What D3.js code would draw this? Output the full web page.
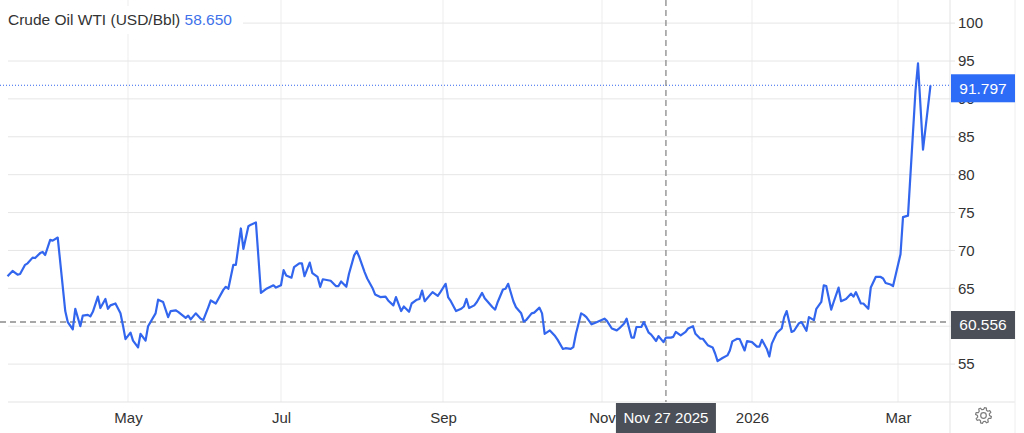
<!DOCTYPE html>
<html>
<head>
<meta charset="utf-8">
<script src="https://cdn.jsdelivr.net/npm/d3@7"></script>
<style>
  body { margin: 0; background: #fff; }
  svg { display: block; font-family: "Liberation Sans", Arial, Helvetica, sans-serif; }
</style>
</head>
<body>
<svg id="chart" width="1024" height="433"></svg>
<script>
// daily WTI closes
const dates = [
  "2025-03-14","2025-03-16","2025-03-18","2025-03-19","2025-03-21","2025-03-22","2025-03-24","2025-03-25","2025-03-27","2025-03-28","2025-03-29","2025-03-31",
  "2025-04-01","2025-04-03","2025-04-06","2025-04-07","2025-04-09","2025-04-10","2025-04-12","2025-04-13","2025-04-15","2025-04-16","2025-04-17","2025-04-19","2025-04-20","2025-04-22","2025-04-23","2025-04-24","2025-04-26","2025-04-28","2025-04-29","2025-04-30",
  "2025-05-02","2025-05-03","2025-05-05","2025-05-06","2025-05-08","2025-05-09","2025-05-12","2025-05-13","2025-05-15","2025-05-17","2025-05-18","2025-05-20","2025-05-21","2025-05-24","2025-05-25","2025-05-26","2025-05-28","2025-05-30","2025-05-31",
  "2025-06-02","2025-06-03","2025-06-05","2025-06-06","2025-06-08","2025-06-09","2025-06-10","2025-06-12","2025-06-13","2025-06-15","2025-06-16","2025-06-18","2025-06-19","2025-06-21","2025-06-22","2025-06-23","2025-06-25","2025-06-28","2025-06-29",
  "2025-07-01","2025-07-02","2025-07-03","2025-07-05","2025-07-06","2025-07-08","2025-07-09","2025-07-10","2025-07-12","2025-07-13","2025-07-15","2025-07-16","2025-07-17","2025-07-20","2025-07-22","2025-07-23","2025-07-24","2025-07-26","2025-07-27","2025-07-29","2025-07-30","2025-07-31",
  "2025-08-02","2025-08-03","2025-08-05","2025-08-06","2025-08-08","2025-08-10","2025-08-11","2025-08-13","2025-08-14","2025-08-16","2025-08-17","2025-08-19","2025-08-20","2025-08-22","2025-08-23","2025-08-24","2025-08-25","2025-08-27","2025-08-28","2025-08-30","2025-08-31",
  "2025-09-02","2025-09-03","2025-09-04","2025-09-06","2025-09-08","2025-09-09","2025-09-10","2025-09-11","2025-09-13","2025-09-14","2025-09-16","2025-09-17","2025-09-18","2025-09-20","2025-09-21","2025-09-22","2025-09-24","2025-09-25","2025-09-26","2025-09-28","2025-09-29",
  "2025-10-01","2025-10-02","2025-10-03","2025-10-05","2025-10-06","2025-10-08","2025-10-09","2025-10-10","2025-10-12","2025-10-14","2025-10-15","2025-10-17","2025-10-18","2025-10-20","2025-10-21","2025-10-22","2025-10-24","2025-10-25","2025-10-26","2025-10-28","2025-10-29","2025-10-31",
  "2025-11-02","2025-11-03","2025-11-05","2025-11-07","2025-11-08","2025-11-10","2025-11-11","2025-11-13","2025-11-14","2025-11-15","2025-11-17","2025-11-18","2025-11-20","2025-11-21","2025-11-23","2025-11-24","2025-11-26","2025-11-27","2025-11-29","2025-11-30",
  "2025-12-01","2025-12-03","2025-12-05","2025-12-06","2025-12-08","2025-12-09","2025-12-11","2025-12-12","2025-12-14","2025-12-16","2025-12-17","2025-12-18","2025-12-20","2025-12-22","2025-12-23","2025-12-24","2025-12-26","2025-12-27","2025-12-29","2025-12-30",
  "2026-01-01","2026-01-03","2026-01-04","2026-01-05","2026-01-07","2026-01-08","2026-01-09","2026-01-11","2026-01-13","2026-01-14","2026-01-15","2026-01-17","2026-01-18","2026-01-20","2026-01-21","2026-01-23","2026-01-24","2026-01-26","2026-01-27","2026-01-29","2026-01-30","2026-01-31",
  "2026-02-02","2026-02-03","2026-02-05","2026-02-06","2026-02-08","2026-02-10","2026-02-11","2026-02-12","2026-02-14","2026-02-15","2026-02-17","2026-02-18","2026-02-20","2026-02-22","2026-02-23","2026-02-24","2026-02-26","2026-02-27","2026-02-28",
  "2026-03-02","2026-03-03","2026-03-05","2026-03-08","2026-03-09","2026-03-11","2026-03-14"
];
const prices = [
  66.6,67.3,66.8,66.9,68.1,68.3,69.05,69.0,69.65,69.8,69.4,71.4,
  71.3,71.7,62.0,60.55,59.6,62.3,60.0,61.4,61.5,61.3,61.9,63.9,62.4,63.6,62.3,62.75,63.0,61.7,60.1,58.3,
  59.15,58.1,57.2,59.0,58.1,60.0,61.7,63.5,63.2,61.2,62.0,62.1,61.9,61.1,61.4,60.9,61.7,61.0,60.8,
  62.5,63.4,63.0,63.6,64.8,65.2,64.95,68.1,68.1,72.9,70.2,73.2,73.4,73.7,69.1,64.4,64.9,65.4,65.1,
  65.4,67.4,66.7,66.4,67.8,68.3,68.3,66.6,68.4,67.0,66.5,65.2,66.2,66.0,65.3,65.3,65.9,65.2,66.9,69.35,69.9,69.1,
  67.15,66.3,65.05,64.2,63.85,63.9,63.4,62.75,63.85,62.0,62.6,61.9,63.0,63.5,63.6,64.7,63.3,64.1,64.5,64.0,64.5,
  65.6,63.8,63.3,62.0,62.3,62.6,63.6,62.4,62.75,63.2,64.4,63.7,63.3,62.5,62.2,63.2,64.85,64.95,65.6,63.3,62.5,
  61.7,60.6,60.85,61.7,61.8,62.45,61.7,59.0,59.45,58.7,58.2,57.0,57.1,57.0,57.25,59.0,61.7,61.5,61.2,60.25,60.4,60.7,
  61.0,60.7,59.7,59.45,59.7,60.35,61.0,58.5,58.5,59.9,59.9,60.55,59.15,58.9,58.05,58.7,57.9,58.5,58.5,58.6,
  59.25,58.8,59.25,59.7,60.0,59.0,58.35,58.35,57.5,57.2,56.4,55.4,55.8,56.15,56.8,58.0,58.35,58.3,56.8,58.05,
  57.9,57.3,57.3,58.2,57.0,56.0,57.7,59.1,59.7,61.2,62.0,59.25,59.4,60.4,60.55,59.4,61.2,60.8,62.3,63.2,65.4,65.3,
  62.2,63.2,65.1,63.3,63.6,64.3,63.9,64.5,63.0,63.0,62.3,65.1,66.5,66.5,66.3,65.7,65.5,65.3,66.7,
  69.5,74.4,74.6,91.1,94.7,83.3,91.797
];

const yTicks = [55, 60, 65, 70, 75, 80, 85, 90, 95, 100];
const monthTicks = ["2025-05-01", "2025-07-01", "2025-09-01", "2025-11-01", "2026-01-01", "2026-03-01"];
const monthLabels = ["May", "Jul", "Sep", "Nov", "2026", "Mar"];

const seriesName = "Crude Oil WTI (USD/Bbl)";
const headline = "58.650";
const lastPrice = 91.797;
const cursorDate = "2025-11-27";
const cursorLabel = "Nov 27 2025";
const cursorPrice = 60.556;

const W = 1024, H = 433;
const plotRight = 950, plotBottom = 402;
const blue = "#3366ee";
const dark = "#4b4f57";

const parse = d3.timeParse("%Y-%m-%d");
const data = dates.map((d, i) => ({ date: parse(d), value: prices[i] }));
const tickDates = monthTicks.map(parse);

const svg = d3.select("#chart");

// the time axis skips weekends, so months are not equally wide:
// a piecewise scale keeps the month marks where the source put them
const x = d3.scaleTime()
    .domain([parse("2025-03-11")].concat(tickDates, [parse("2026-03-21")]))
    .range([0, 128, 281, 443, 602, 752, 898, 948]);

const y = d3.scaleLinear()
    .domain([50, 103.05])
    .range([plotBottom, 0]);

// grid
svg.append("g")
    .selectAll("line")
    .data(tickDates)
    .join("line")
    .attr("x1", d => x(d)).attr("x2", d => x(d))
    .attr("y1", 0).attr("y2", plotBottom)
    .attr("stroke", "#ededed");

svg.append("g")
    .selectAll("line")
    .data(yTicks)
    .join("line")
    .attr("x1", 8).attr("x2", plotRight + 5)
    .attr("y1", d => y(d)).attr("y2", d => y(d))
    .attr("stroke", "#e6e6e6");

// frame
svg.append("line")
    .attr("x1", 8).attr("x2", 1015)
    .attr("y1", plotBottom).attr("y2", plotBottom)
    .attr("stroke", "#e3e3e3");
svg.append("line")
    .attr("x1", plotRight).attr("x2", plotRight)
    .attr("y1", 0).attr("y2", H)
    .attr("stroke", "#e3e3e3");
svg.append("line")
    .attr("x1", 1015).attr("x2", 1015)
    .attr("y1", 0).attr("y2", H)
    .attr("stroke", "#eeeeee");

// axes; the label sitting fully under the crosshair tag is not shown
const yAxis = svg.append("g")
    .attr("transform", `translate(${plotRight},0)`)
    .call(d3.axisRight(y).tickValues(yTicks).tickSize(0).tickPadding(8));
yAxis.select(".domain").remove();
yAxis.selectAll("text")
    .attr("font-size", 15)
    .attr("fill", "#333")
    .attr("font-family", "Liberation Sans, Arial, sans-serif");
yAxis.selectAll(".tick")
    .filter(d => Math.abs(y(d) - y(cursorPrice)) < 10)
    .remove();

const xAxis = svg.append("g")
    .attr("transform", `translate(0,${plotBottom})`)
    .call(d3.axisBottom(x).tickValues(tickDates).tickFormat((d, i) => monthLabels[i]).tickSize(0).tickPadding(10));
xAxis.select(".domain").remove();
xAxis.selectAll("text")
    .attr("font-size", 15)
    .attr("fill", "#333")
    .attr("font-family", "Liberation Sans, Arial, sans-serif");

// last price guide
svg.append("line")
    .attr("x1", 0).attr("x2", plotRight)
    .attr("y1", y(lastPrice)).attr("y2", y(lastPrice))
    .attr("stroke", blue)
    .attr("stroke-width", 1)
    .attr("stroke-dasharray", "1,2");

// crosshair
svg.append("line")
    .attr("x1", 0).attr("x2", plotRight)
    .attr("y1", y(cursorPrice)).attr("y2", y(cursorPrice))
    .attr("stroke", "#8a8a8a")
    .attr("stroke-width", 1.3)
    .attr("stroke-dasharray", "6,4");
svg.append("line")
    .attr("x1", x(parse(cursorDate))).attr("x2", x(parse(cursorDate)))
    .attr("y1", 0).attr("y2", plotBottom)
    .attr("stroke", "#8a8a8a")
    .attr("stroke-width", 1.3)
    .attr("stroke-dasharray", "6,4");

// price line
const line = d3.line()
    .x(d => x(d.date))
    .y(d => y(d.value));

svg.append("path")
    .datum(data)
    .attr("fill", "none")
    .attr("stroke", blue)
    .attr("stroke-width", 2.2)
    .attr("stroke-linejoin", "round")
    .attr("d", line);

// value tags on the right axis
function priceTag(value, fill) {
    const cy = y(value);
    svg.append("rect")
        .attr("x", plotRight + 1).attr("y", cy - 11)
        .attr("width", 64).attr("height", 28)
        .attr("fill", fill);
    svg.append("text")
        .attr("x", plotRight + 33).attr("y", cy + 3)
        .attr("dy", "0.35em")
        .attr("text-anchor", "middle")
        .attr("font-size", 15.5)
        .attr("fill", "#fff")
        .text(d3.format(".3f")(value));
}
priceTag(lastPrice, "#2d6cf6");
priceTag(cursorPrice, dark);

// date tag under the crosshair
const cx = x(parse(cursorDate));
svg.append("rect")
    .attr("x", cx - 50).attr("y", plotBottom + 1)
    .attr("width", 100).attr("height", H - plotBottom)
    .attr("fill", dark);
svg.append("text")
    .attr("x", cx).attr("y", plotBottom + 16)
    .attr("dy", "0.35em")
    .attr("text-anchor", "middle")
    .attr("font-size", 15)
    .attr("fill", "#fff")
    .text(cursorLabel);

// title
svg.append("rect")
    .attr("x", 0).attr("y", 6)
    .attr("width", 243).attr("height", 28)
    .attr("fill", "#fff");
const title = svg.append("text")
    .attr("x", 8).attr("y", 25)
    .attr("font-size", 15.5);
title.append("tspan").attr("fill", "#333").text(seriesName + " ");
title.append("tspan").attr("fill", "#3f72ea").text(headline);

// settings gear
function gearPath(gx, gy, rOut, rIn, n) {
    const p = d3.path();
    const step = 2 * Math.PI / n;
    for (let i = 0; i < n; i++) {
        const a = i * step;
        [[rIn, a], [rOut, a + step * 0.18], [rOut, a + step * 0.48], [rIn, a + step * 0.66]]
            .forEach(([r, ang], j) => {
                const px = gx + r * Math.cos(ang), py = gy + r * Math.sin(ang);
                if (i === 0 && j === 0) p.moveTo(px, py); else p.lineTo(px, py);
            });
    }
    p.closePath();
    return p.toString();
}
svg.append("path")
    .attr("d", gearPath(983.5, 415.5, 8, 6, 8))
    .attr("fill", "none")
    .attr("stroke", "#7d7d7d")
    .attr("stroke-width", 1.2)
    .attr("stroke-linejoin", "round");
svg.append("circle")
    .attr("cx", 983.5).attr("cy", 415.5).attr("r", 2.8)
    .attr("fill", "none")
    .attr("stroke", "#7d7d7d")
    .attr("stroke-width", 1.2);
</script>
</body>
</html>
